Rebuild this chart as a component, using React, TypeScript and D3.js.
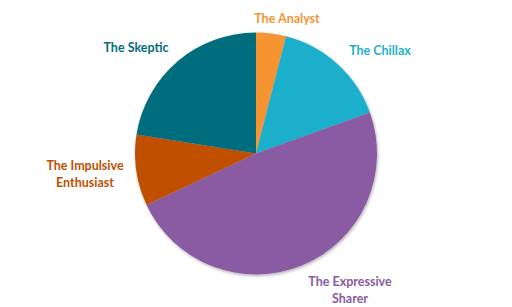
import React from "react";
import * as d3 from "d3";

const categories = ["The Analyst", "The Chillax", "The Expressive Sharer", "The Impulsive Enthusiast", "The Skeptic"];
const values = [4, 15.5, 48.5, 9.5, 22.5];
const colors = ["#F79433", "#1FAFCB", "#8A5AA3", "#C04F00", "#036D7E"];
const labelLines = [["The Analyst"], ["The Chillax"], ["The Expressive", "Sharer"], ["The Impulsive", "Enthusiast"], ["The Skeptic"]];
const labelPos: [number, number][] = [[287, 18], [380, 50], [350, 281], [85, 165], [136, 47]];

export default function App() {
  const W = 512, H = 307;
  const cx = 256, cy = 153.5, r = 121;
  const pie = d3.pie<number>().sort(null).value((d) => d);
  const arcs = pie(values);
  const arc = d3.arc<d3.PieArcDatum<number>>().innerRadius(0).outerRadius(r);
  return (
    <svg width={W} height={H} style={{ position: "absolute", left: 0, top: 0 }} fontFamily="Lato, 'Open Sans', sans-serif">
      <defs>
        <filter id="sh" x="-20%" y="-20%" width="140%" height="140%">
          <feDropShadow dx="1" dy="1.5" stdDeviation="1.5" floodColor="#000" floodOpacity="0.3" />
        </filter>
      </defs>
      <rect width={W} height={H} fill="#fff" />
      <g transform={`translate(${cx},${cy})`} filter="url(#sh)">
        {arcs.map((a, i) => (
          <path key={i} d={arc(a) || ""} fill={colors[i]} />
        ))}
      </g>
      {labelLines.map((lines, i) => (
        <text key={i} x={labelPos[i][0]} y={labelPos[i][1]} textAnchor="middle" fill={colors[i]} fontWeight="bold" fontSize={12.5} dominantBaseline="central">
          {lines.map((l, j) => (
            <tspan key={j} x={labelPos[i][0]} dy={j === 0 ? 0 : 17}>{l}</tspan>
          ))}
        </text>
      ))}
    </svg>
  );
}
